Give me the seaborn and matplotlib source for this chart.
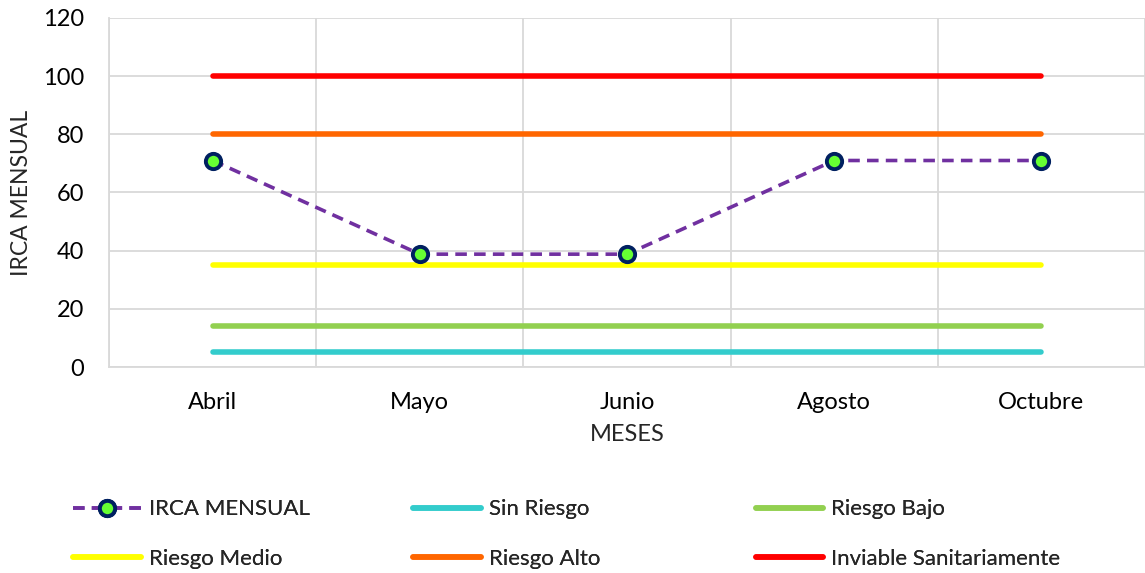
import matplotlib
matplotlib.use("Agg")
import matplotlib.pyplot as plt
import seaborn as sns
import pandas as pd
import numpy as np

meses = ["Abril", "Mayo", "Junio", "Agosto", "Octubre"]
irca = [71.0, 38.8, 38.8, 71.0, 71.0]
sin_riesgo = [5, 5, 5, 5, 5]
riesgo_bajo = [14, 14, 14, 14, 14]
riesgo_medio = [35, 35, 35, 35, 35]
riesgo_alto = [80, 80, 80, 80, 80]
inviable = [100, 100, 100, 100, 100]
yticks = [0, 20, 40, 60, 80, 100, 120]

sns.set_theme(style="white")
plt.rcParams['font.family'] = ['Lato', 'DejaVu Sans']

fig = plt.figure(figsize=(11.45, 5.73), dpi=100)
ax = fig.add_axes([0.0952, 0.3595, 0.9048, 0.6091])

xpos = np.arange(len(meses))
series = [
    ("Sin Riesgo", sin_riesgo, "#33CCCC"),
    ("Riesgo Bajo", riesgo_bajo, "#92D050"),
    ("Riesgo Medio", riesgo_medio, "#FFFF00"),
    ("Riesgo Alto", riesgo_alto, "#FF6600"),
    ("Inviable Sanitariamente", inviable, "#FF0000"),
]
handles = {}
for name, vals, col in series:
    df = pd.DataFrame({"x": xpos, "y": vals})
    sns.lineplot(data=df, x="x", y="y", ax=ax, color=col, linewidth=4,
                 solid_capstyle="round", label=name, legend=False)
    handles[name] = ax.lines[-1]

df = pd.DataFrame({"x": xpos, "y": irca})
sns.lineplot(data=df, x="x", y="y", ax=ax, color="#7030A0", linewidth=2.6,
             marker="o", markersize=11, markerfacecolor="#66FF33",
             markeredgecolor="#002060", markeredgewidth=2.8, label="IRCA MENSUAL",
             legend=False, zorder=5)
ln = ax.lines[-1]
ln.set_dashes([3.2, 2.0])
handles["IRCA MENSUAL"] = ln

ax.set_xlim(-0.5, 4.5)
ax.set_ylim(0, 120)
ax.set_xticks(xpos)
ax.set_xticklabels(meses)
ax.set_yticks(yticks)
ax.set_xticks(np.arange(-0.5, 5.0, 1.0), minor=True)
ax.grid(True, which="major", axis="y", color="#D9D9D9", linewidth=1.3)
ax.grid(True, which="minor", axis="x", color="#D9D9D9", linewidth=1.3)
ax.grid(False, which="major", axis="x")
for s in ["top", "right"]:
    ax.spines[s].set_visible(False)
for s in ["left", "bottom"]:
    ax.spines[s].set_color("#D9D9D9")
    ax.spines[s].set_linewidth(1.3)
ax.tick_params(axis="both", which="both", length=0, labelsize=17, colors="#000000")
ax.tick_params(axis="x", pad=18)
ax.tick_params(axis="y", pad=18)
ax.set_xlabel("MESES", fontsize=17, labelpad=8)
ax.set_ylabel("IRCA MENSUAL", fontsize=16.5, labelpad=8)

cols = [["IRCA MENSUAL", "Riesgo Medio"], ["Sin Riesgo", "Riesgo Alto"],
        ["Riesgo Bajo", "Inviable Sanitariamente"]]
xs = [0.0543, 0.3513, 0.6503]
for names, xa in zip(cols, xs):
    leg = fig.legend([handles[n] for n in names], names, loc="upper left",
                     bbox_to_anchor=(xa, 0.148), bbox_transform=fig.transFigure,
                     frameon=False, fontsize=16, handlelength=3.05,
                     handletextpad=0.36, labelspacing=1.33, borderpad=0)
    fig.add_artist(leg)

fig.savefig("out.png", dpi=100)
